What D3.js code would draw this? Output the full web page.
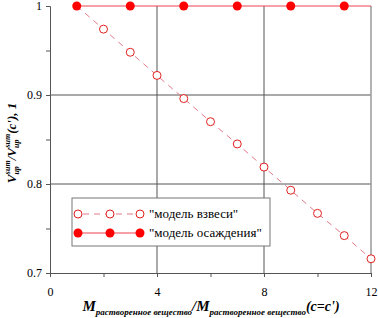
<!DOCTYPE html>
<html><head><meta charset="utf-8">
<script src="https://cdn.jsdelivr.net/npm/d3@7"></script>
</head><body style="margin:0;background:#fff">
<script>
const suspX = [1,2,3,4,5,6,7,8,9,10,11,12];
const suspY = [1.0,0.974,0.948,0.922,0.896,0.870,0.845,0.819,0.793,0.767,0.742,0.716];
const sedX = [1,3,5,7,9,11];
const sedY = [1,1,1,1,1,1];
const xTicks = [0,4,8,12];
const yTicks = [0.7,0.8,0.9,1];
const legendLabels = ['"модель взвеси"', '"модель осаждения"'];

const FF = '"Liberation Serif"';
const W=378,H=318;
const svg=d3.select("body").append("svg").attr("width",W).attr("height",H).style("display","block").style("font-family",FF);
const x=d3.scaleLinear().domain([0,12]).range([50,371]);
const y=d3.scaleLinear().domain([0.7,1]).range([273,6]);

// grid
const g=svg.append("g");
g.selectAll(".gx").data([4,8]).enter().append("line")
 .attr("x1",d=>x(d)).attr("x2",d=>x(d)).attr("y1",y(0.7)).attr("y2",y(1)).attr("stroke","#555").attr("stroke-width",1);
g.selectAll(".gy").data([0.8,0.9]).enter().append("line")
 .attr("x1",x(0)).attr("x2",x(12)).attr("y1",d=>y(d)).attr("y2",d=>y(d)).attr("stroke","#555").attr("stroke-width",1);
svg.append("line").attr("x1",x(12)).attr("x2",x(12)).attr("y1",y(0.7)).attr("y2",y(1)).attr("stroke","#999").attr("stroke-width",1.5);

// axes
const xAxis=d3.axisBottom(x).tickValues(d3.range(0,13,2)).tickSize(4).tickFormat(d=>xTicks.includes(d)?d:"");
const ax=svg.append("g").attr("transform",`translate(0,${y(0.7)})`).call(xAxis);
ax.attr("font-family",null).style("font-family",FF);
ax.select(".domain").attr("stroke","#555");
ax.selectAll(".tick line").attr("stroke","#555");
ax.selectAll(".tick text").attr("font-size",12).attr("fill","#000").attr("dy","1.3em").style("font-family",FF);
const yAxis=d3.axisLeft(y).tickValues([0.7,0.75,0.8,0.85,0.9,0.95,1]).tickSize(4).tickFormat(d=>yTicks.some(t=>Math.abs(t-d)<1e-9)?(d===1?"1":d3.format(".1f")(d)):"");
const ay=svg.append("g").attr("transform",`translate(${x(0)},0)`).call(yAxis);
ay.attr("font-family",null).style("font-family",FF);
ay.select(".domain").attr("stroke","#555");
ay.selectAll(".tick line").attr("stroke","#555");
ay.selectAll(".tick text").attr("font-size",12).attr("fill","#000").attr("x",-8).style("font-family",FF);

// lines
const line=d3.line().x(d=>x(d[0])).y(d=>y(d[1]));
svg.append("path").datum(suspX.map((v,i)=>[v,suspY[i]])).attr("d",line).attr("fill","none")
 .attr("stroke","#e07a8a").attr("stroke-width",1).attr("stroke-dasharray","6,5");
svg.append("line").attr("x1",x(sedX[0])).attr("x2",x(12)).attr("y1",y(1)).attr("y2",y(1)).attr("stroke","#f04050").attr("stroke-width",1);
svg.selectAll(".hp").data(suspX.slice(1).map((v,i)=>[v,suspY[i+1]])).enter().append("circle")
 .attr("cx",d=>x(d[0])).attr("cy",d=>y(d[1])).attr("r",4).attr("fill","#fff").attr("stroke","#e02020").attr("stroke-width",1);
svg.selectAll(".fp").data(sedX.map((v,i)=>[v,sedY[i]])).enter().append("circle")
 .attr("cx",d=>x(d[0])).attr("cy",d=>y(d[1])).attr("r",4.5).attr("fill","#ff0000");

// legend
const lg=svg.append("g");
lg.append("rect").attr("x",72).attr("y",198).attr("width",198).attr("height",48).attr("fill","#fff").attr("stroke","#777").attr("stroke-width",1);
lg.append("line").attr("x1",78).attr("x2",140).attr("y1",214).attr("y2",214).attr("stroke","#e07a8a").attr("stroke-dasharray","6,5").attr("stroke-dashoffset",-5);
lg.append("line").attr("x1",78).attr("x2",140).attr("y1",233).attr("y2",233).attr("stroke","#f04050");
[78,110,140].forEach(cx=>{
  lg.append("circle").attr("cx",cx).attr("cy",214).attr("r",4).attr("fill","#fff").attr("stroke","#e02020");
  lg.append("circle").attr("cx",cx).attr("cy",233).attr("r",4.5).attr("fill","#ff0000");
});
legendLabels.forEach((t,i)=>lg.append("text").attr("x",149).attr("y",218+i*19).attr("font-size",13).style("font-family",FF).text(t));

// x title
const xt=svg.append("text").attr("x",211).attr("y",311).attr("text-anchor","middle").attr("font-weight","bold").attr("font-style","italic").style("font-family",FF);
xt.append("tspan").attr("font-size",15).text("M");
xt.append("tspan").attr("font-size",9).attr("dy",4).text("растворенное вещество");
xt.append("tspan").attr("font-size",15).attr("dy",-4).text("/M");
xt.append("tspan").attr("font-size",9).attr("dy",4).text("растворенное вещество");
xt.append("tspan").attr("font-size",14).attr("dy",-4).text("(c=c')");

// y title
const yt=svg.append("text").attr("transform","translate(16,143) rotate(-90)").attr("text-anchor","middle").attr("font-weight","bold").attr("font-style","italic").attr("font-size",13).style("font-family",FF);
yt.append("tspan").text("V");
yt.append("tspan").attr("font-size",8).attr("dy",3).text("up");
yt.append("tspan").attr("font-size",8).attr("dx",-8).attr("dy",-9).text("sum");
yt.append("tspan").attr("dy",6).text("/V");
yt.append("tspan").attr("font-size",8).attr("dy",3).text("up");
yt.append("tspan").attr("font-size",8).attr("dx",-8).attr("dy",-9).text("sum");
yt.append("tspan").attr("dy",6).text("(c'), 1");
</script>
</body></html>
